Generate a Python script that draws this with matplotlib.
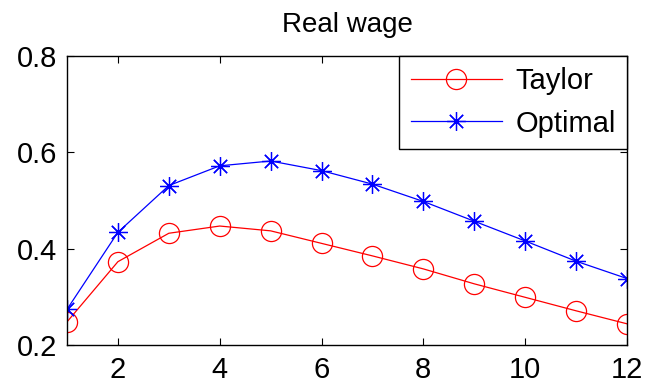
import matplotlib
matplotlib.use("Agg")
import matplotlib.pyplot as plt

plt.rcParams['font.family'] = ['Liberation Sans', 'DejaVu Sans']

# Impulse response of the real wage over 12 periods
periods = list(range(1, 13))
taylor = [0.248, 0.373, 0.432, 0.447, 0.437, 0.411, 0.385, 0.358, 0.327, 0.299, 0.271, 0.244]
optimal = [0.274, 0.434, 0.531, 0.572, 0.582, 0.562, 0.534, 0.498, 0.457, 0.416, 0.374, 0.338]
xticks = [2, 4, 6, 8, 10, 12]
yticks = [0.2, 0.4, 0.6, 0.8]

fig = plt.figure(figsize=(6.48, 3.83), dpi=100)
ax = fig.add_axes([0.1034, 0.0992, 0.8642, 0.7546])

# eight-spoke asterisk marker
asterisk = (8, 2, 0)

ax.plot(periods, taylor, color='red', lw=0.9, marker='o', ms=14.5,
        mfc='none', mec='red', mew=0.9, label='Taylor')
ax.plot(periods, optimal, color='blue', lw=0.9, marker=asterisk, ms=13.5,
        mfc='none', mec='blue', mew=0.9, label='Optimal')

ax.set_xlim(1, 12)
ax.set_ylim(0.2, 0.8)
ax.set_xticks(xticks)
ax.set_yticks(yticks)
ax.set_yticklabels([f"{v:.1f}" for v in yticks])
ax.tick_params(direction='in', length=5, width=0.8, labelsize=21,
               top=True, right=True)
ax.tick_params(axis='y', pad=7)
ax.tick_params(axis='x', pad=8)
for s in ax.spines.values():
    s.set_linewidth(1.0)

ax.set_title('Real wage', fontsize=20, pad=17)

leg = ax.legend(loc='upper right', fontsize=21, frameon=True, fancybox=False,
                edgecolor='black', framealpha=1, borderaxespad=0,
                handlelength=3.15, handletextpad=0.45, borderpad=0.38,
                labelspacing=0.5, numpoints=1)
leg.get_frame().set_linewidth(1.0)

fig.savefig('out.png', dpi=100)
